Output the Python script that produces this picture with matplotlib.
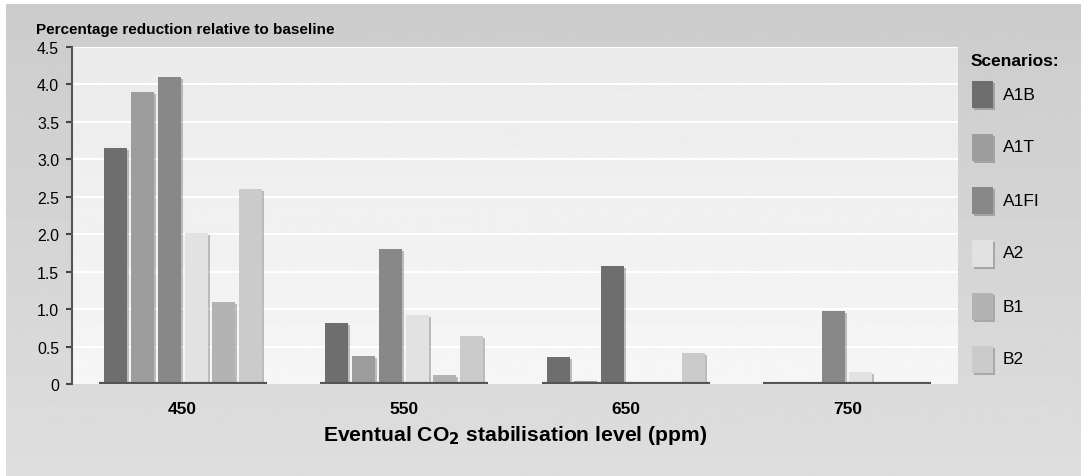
import matplotlib.pyplot as plt
import matplotlib.patheffects as pe
from matplotlib.patches import Rectangle
import numpy as np

plt.rcParams['font.family'] = ['Liberation Sans', 'DejaVu Sans']

# Stabilisation levels (ppm) and scenario results (% reduction vs baseline)
levels = ['450', '550', '650', '750']
scenarios = ['A1B', 'A1T', 'A1FI', 'A2', 'B1', 'B2']
a1b = [3.15, 0.82, 0.36, 0.0]
a1t = [3.90, 0.38, 0.04, 0.0]
a1fi = [4.10, 1.80, 1.58, 0.97]
a2 = [2.02, 0.92, 0.0, 0.16]
b1 = [1.09, 0.12, 0.0, 0.0]
b2 = [2.60, 0.645, 0.42, 0.0]
series = [a1b, a1t, a1fi, a2, b1, b2]
colors = ['#6e6e6e', '#9d9d9d', '#888888', '#e2e2e2', '#b3b3b3', '#cbcbcb']
yticks = [0, 0.5, 1.0, 1.5, 2.0, 2.5, 3.0, 3.5, 4.0, 4.5]
ytick_labels = ['0', '0.5', '1.0', '1.5', '2.0', '2.5', '3.0', '3.5', '4.0', '4.5']

W, H = 1081, 477
fig = plt.figure(figsize=(W / 100, H / 100), dpi=100)
fig.patch.set_facecolor('white')

# outer grey gradient panel (white strip at top/left like the original)
bg = fig.add_axes([6 / W, 0, 1 - 6 / W, 1 - 5 / H], zorder=-10)
bg.imshow(np.linspace(0.80, 0.87, 256).reshape(-1, 1), cmap='gray', vmin=0, vmax=1,
          aspect='auto', extent=[0, 1, 0, 1])
bg.set_axis_off()

ax = fig.add_axes([72 / W, 92 / H, 886 / W, 337 / H])
ax.imshow(np.linspace(0.92, 0.965, 256).reshape(-1, 1), cmap='gray', vmin=0, vmax=1,
          aspect='auto', extent=[0, 1, 0, 1], transform=ax.transAxes, zorder=0)

x = np.arange(len(levels))
step = 0.122
width = 0.104
shadow = [pe.SimplePatchShadow(offset=(1.5, -1.5), shadow_rgbFace='#505050', alpha=0.35), pe.Normal()]
for i, (vals, col) in enumerate(zip(series, colors)):
    bar_cols = [col] * len(vals)
    if scenarios[i] == 'A1FI':
        bar_cols[2] = '#6e6e6e'  # the 650 bar is drawn darker in the original
    bars = ax.bar(x + (i - 2.5) * step, vals, width, color=bar_cols, zorder=3, linewidth=0)
    for b in bars:
        b.set_path_effects(shadow)

# dark floor under each group
for xc in x:
    ax.hlines(0, xc - 0.38, xc + 0.38, color='#555555', linewidth=3, zorder=4)

ax.set_xlim(-0.5, 3.5)
ax.set_ylim(0, 4.5)
ax.set_yticks(yticks)
ax.set_yticklabels(ytick_labels, fontsize=11.4)
for y in yticks[1:]:
    ax.axhline(y, color='white', linewidth=1.5, zorder=1)

ax.set_xticks(x)
ax.set_xticklabels(levels, fontsize=12.5, fontweight='bold')
ax.tick_params(axis='x', length=0, pad=12)
ax.tick_params(axis='y', length=4.3, width=1.5, color='#444444', pad=5)
for s in ['top', 'right', 'bottom']:
    ax.spines[s].set_visible(False)
ax.spines['left'].set_color('#555555')
ax.spines['left'].set_linewidth(1.5)
ax.set_xlabel('Eventual CO$_\\mathbf{2}$ stabilisation level (ppm)', fontsize=15.2,
              fontweight='bold', labelpad=5)

fig.text(36 / W, 1 - 30 / H, 'Percentage reduction relative to baseline',
         fontsize=11, fontweight='bold', va='center')

# legend drawn by hand to match the tall, spaced swatches
fig.text(971 / W, 1 - 62 / H, 'Scenarios:', fontsize=12.5, fontweight='bold', va='center')
for i, (name, col) in enumerate(zip(scenarios, colors)):
    yc = 95 + 53 * i
    r = Rectangle((972 / W, 1 - (yc + 14) / H), 21 / W, 27 / H, transform=fig.transFigure,
                  facecolor=col, linewidth=0)
    r.set_path_effects(shadow)
    fig.add_artist(r)
    fig.text(1003 / W, 1 - yc / H, name, fontsize=12.5, va='center')

plt.savefig('out.png', dpi=100)
